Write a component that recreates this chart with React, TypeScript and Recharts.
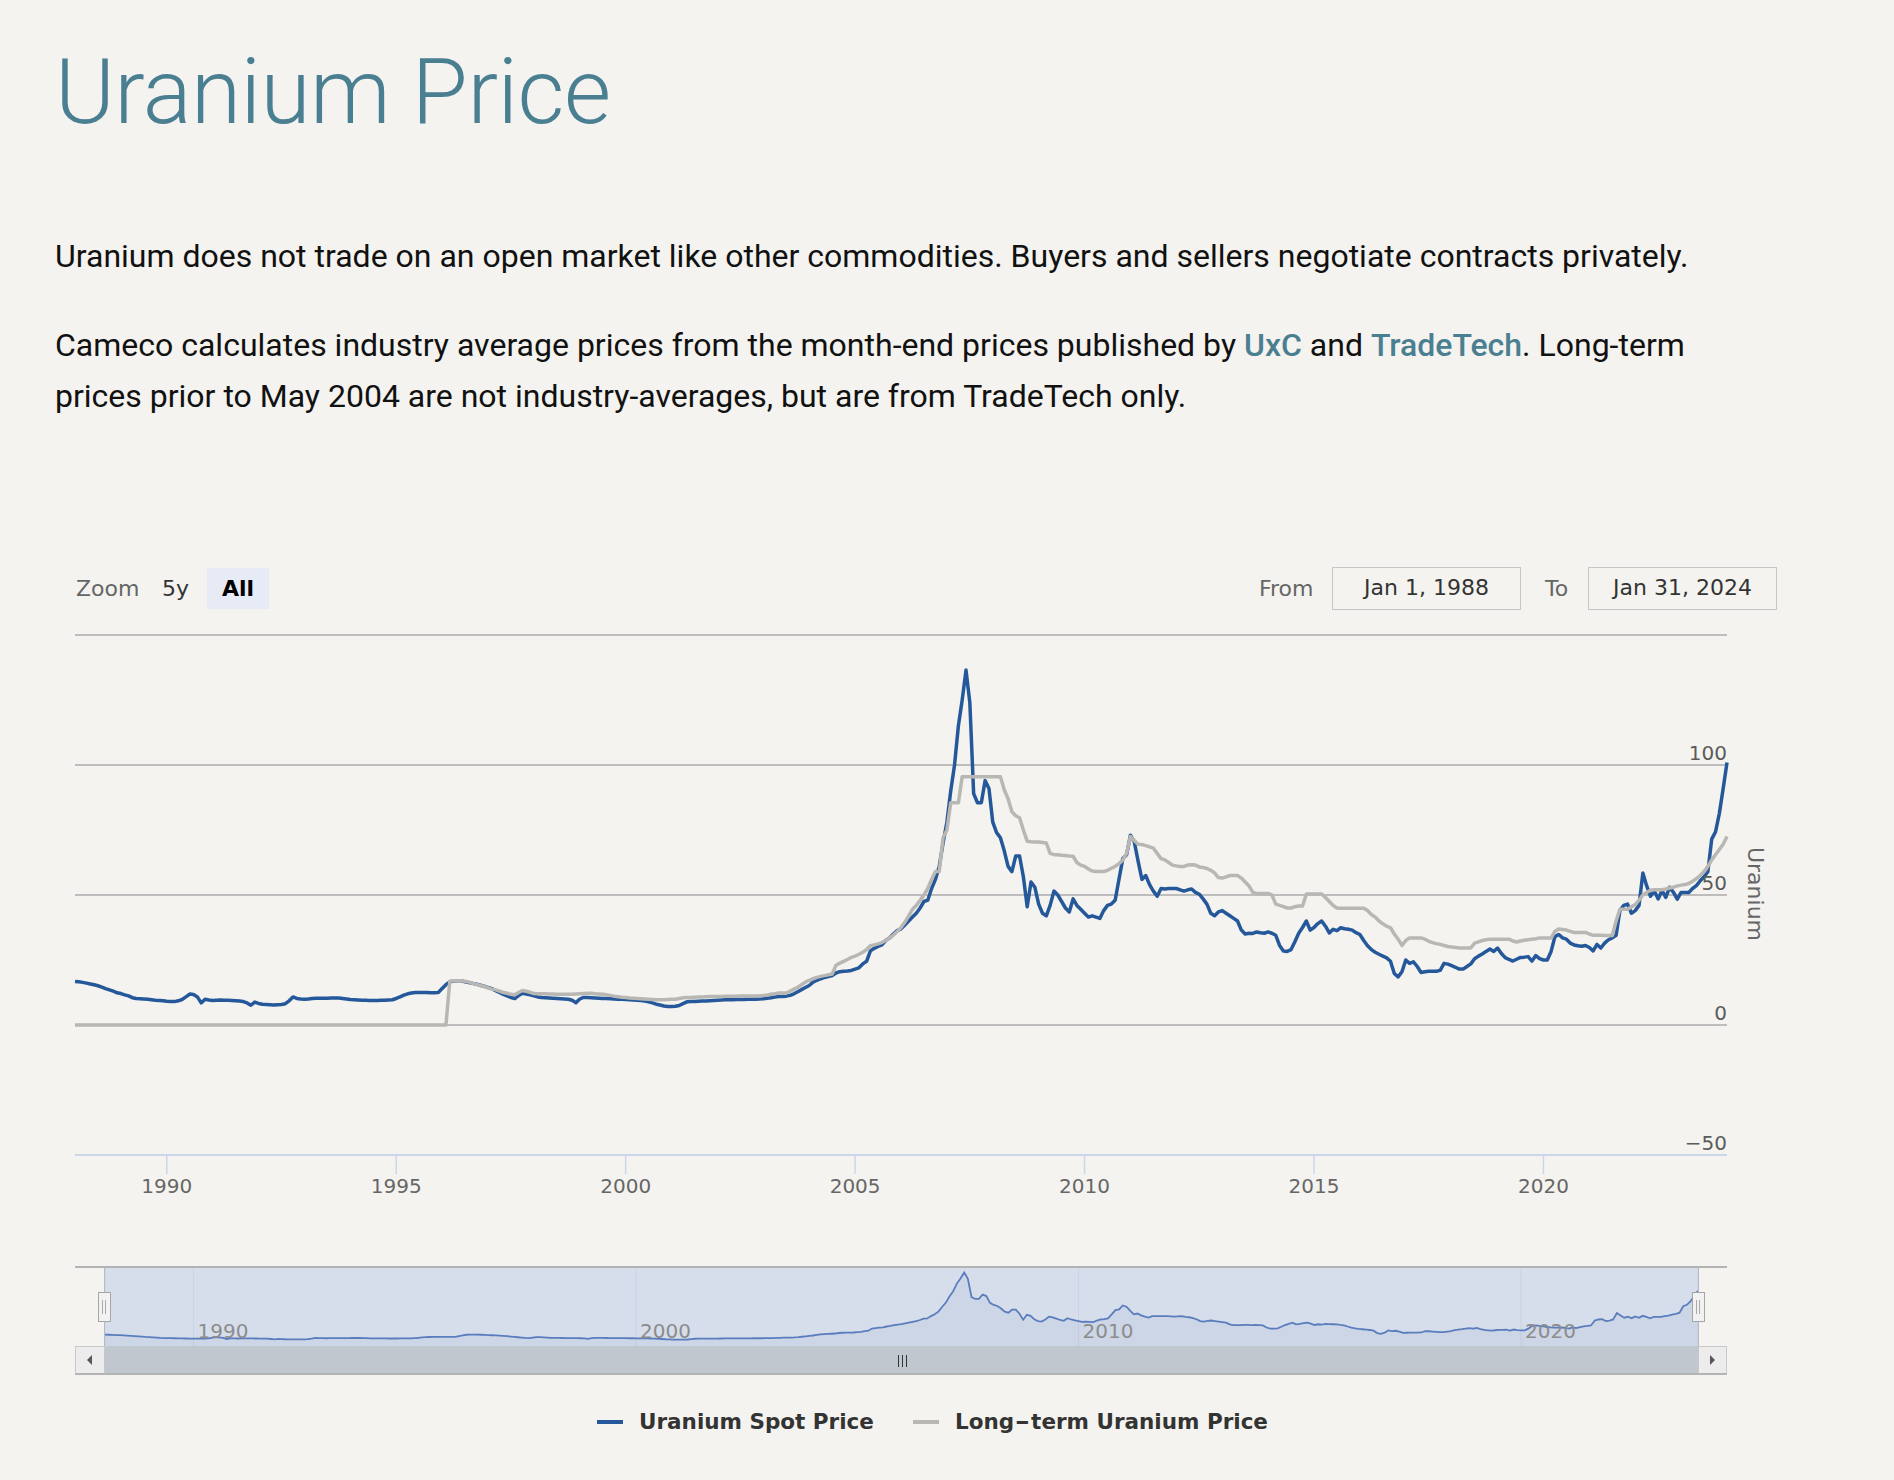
import React from 'react';
import { LineChart, Line, XAxis, YAxis, CartesianGrid, AreaChart, Area } from 'recharts';

// ---------------- data ----------------
const START_YEAR = 1988;
const END_YEAR = 2024;
const X_TICKS = [1990, 1995, 2000, 2005, 2010, 2015, 2020];
const NAV_TICKS = [1990, 2000, 2010, 2020];
const Y_TICKS = [-50, 0, 50, 100, 150];
const SERIES_NAMES = ['Uranium Spot Price', 'Long-term Uranium Price'];
const SERIES_COLORS = ['#24589a', '#b8b7b4'];
const Y_AXIS_TITLE = 'Uranium';
const FROM_DATE = 'Jan 1, 1988';
const TO_DATE = 'Jan 31, 2024';

// monthly spot price, Jan..Dec per row
const SPOT_1988_1995 = [
  16.7, 16.6, 16.4, 16.1, 15.8, 15.5, 15.1, 14.6, 14.0, 13.5, 13.0, 12.4,
  12.1, 11.6, 11.2, 10.5, 10.2, 10.1, 10.0, 9.9, 9.7, 9.5, 9.4, 9.3,
  9.1, 9.0, 9.0, 9.3, 9.8, 10.8, 11.9, 11.7, 10.8, 8.5, 9.9, 9.6,
  9.4, 9.5, 9.6, 9.5, 9.5, 9.4, 9.3, 9.2, 9.0, 8.5, 7.6, 8.8,
  8.3, 8.0, 7.9, 7.8, 7.7, 7.8, 7.9, 8.2, 9.3, 10.8, 10.2, 10.0,
  9.9, 10.0, 10.2, 10.3, 10.3, 10.3, 10.3, 10.4, 10.4, 10.4, 10.2, 10.0,
  9.8, 9.7, 9.6, 9.5, 9.5, 9.4, 9.4, 9.4, 9.5, 9.5, 9.6, 9.7,
  10.2, 10.8, 11.5, 12.0, 12.3, 12.5, 12.5, 12.5, 12.5, 12.4, 12.4, 12.5,
];
const SPOT_1996_2003 = [
  14.0, 15.5, 16.6, 16.9, 17.0, 17.0, 16.6, 16.3, 16.0, 15.7, 15.3, 14.9,
  14.4, 14.0, 13.2, 12.5, 11.8, 11.2, 10.6, 10.2, 11.3, 12.2, 11.9, 11.6,
  11.2, 10.8, 10.6, 10.5, 10.4, 10.3, 10.2, 10.1, 10.0, 9.9, 9.5, 8.6,
  10.0, 10.6, 10.6, 10.5, 10.4, 10.3, 10.2, 10.2, 10.1, 10.0, 9.9, 9.9,
  9.8, 9.7, 9.6, 9.5, 9.4, 9.2, 8.9, 8.5, 8.0, 7.7, 7.3, 7.1,
  7.1, 7.2, 7.5, 8.2, 8.9, 9.0, 9.0, 9.1, 9.2, 9.2, 9.3, 9.4,
  9.5, 9.6, 9.7, 9.7, 9.7, 9.8, 9.8, 9.8, 9.9, 9.9, 9.9, 10.0,
  10.1, 10.3, 10.5, 10.8, 11.0, 11.0, 11.1, 11.4, 12.0, 12.8, 13.6, 14.4,
];
const SPOT_2004_2011 = [
  15.2, 16.5, 17.2, 17.8, 18.3, 18.6, 19.0, 20.0, 20.5, 20.7, 20.8, 21.0,
  21.5, 22.0, 23.5, 24.5, 28.5, 29.5, 30.2, 30.8, 32.5, 33.5, 35.0, 36.3,
  37.0, 38.5, 40.0, 41.5, 43.0, 45.0, 47.5, 48.0, 52.5, 56.0, 61.0, 70.0,
  78.0, 90.0, 100.0, 115.0, 125.0, 136.5, 124.0, 89.0, 85.5, 85.5, 94.0, 91.0,
  78.0, 74.0, 72.0, 67.0, 61.0, 59.0, 65.0, 65.0, 57.0, 45.5, 55.0, 53.0,
  46.5, 43.0, 42.0, 46.0, 51.5, 50.0, 47.5, 45.0, 43.5, 48.5, 46.0, 44.5,
  43.0, 41.5, 42.0, 41.5, 41.0, 44.0, 46.0, 46.5, 48.0, 56.0, 64.0, 65.5,
  73.0, 70.5, 63.0, 56.0, 57.5, 54.0, 51.5, 49.5, 52.5, 52.3, 52.5, 52.5,
];
const SPOT_2012_2019 = [
  52.5, 52.0, 51.5, 52.0, 52.3, 51.0, 50.3, 48.5, 46.5, 43.0, 42.0, 43.5,
  44.0, 43.0, 42.0, 41.0, 40.0, 36.5, 35.0, 35.3, 35.2, 35.8, 35.5, 35.3,
  35.8, 35.3, 34.5, 30.6, 28.5, 28.3, 29.0, 32.0, 35.3, 37.5, 40.0, 36.5,
  37.5, 39.0, 40.0, 38.0, 35.4, 36.8, 36.3, 37.4, 37.0, 36.8, 36.5, 35.5,
  34.8, 32.5, 30.5, 29.0, 28.0, 27.2, 26.5, 25.8, 24.5, 19.8, 18.5, 20.5,
  25.0, 23.7, 24.3, 22.5, 20.2, 20.5, 20.7, 20.7, 20.7, 21.0, 23.7, 23.4,
  22.8, 22.2, 21.5, 21.5, 22.5, 23.5, 25.5, 26.5, 27.3, 28.3, 29.2, 28.3,
  29.6, 27.5, 25.9, 25.2, 24.6, 25.3, 26.0, 26.1, 26.3, 24.6, 26.7, 25.5,
];
const SPOT_2020_2024 = [
  25.0, 25.0, 28.3, 34.0, 34.8, 33.5, 33.0, 31.5, 30.8, 30.5, 30.3, 30.6,
  29.8, 28.5, 31.0, 29.6, 31.5, 32.8, 33.5, 34.5, 44.0, 46.0, 46.5, 43.0,
  44.0, 46.0, 58.5, 53.5, 49.5, 51.5, 48.5, 51.7, 49.1, 53.0, 51.0, 48.4,
  51.0, 51.0, 51.0, 52.5, 53.6, 55.5, 57.0, 59.0, 71.5, 74.3, 81.4, 91.0,
  101.0,
];

// monthly long-term price, Jan..Dec per row (drawn at 0 before 1996)
const LONG_TERM_1988_1995 = [
  0, 0, 0, 0, 0, 0, 0, 0, 0, 0, 0, 0,
  0, 0, 0, 0, 0, 0, 0, 0, 0, 0, 0, 0,
  0, 0, 0, 0, 0, 0, 0, 0, 0, 0, 0, 0,
  0, 0, 0, 0, 0, 0, 0, 0, 0, 0, 0, 0,
  0, 0, 0, 0, 0, 0, 0, 0, 0, 0, 0, 0,
  0, 0, 0, 0, 0, 0, 0, 0, 0, 0, 0, 0,
  0, 0, 0, 0, 0, 0, 0, 0, 0, 0, 0, 0,
  0, 0, 0, 0, 0, 0, 0, 0, 0, 0, 0, 0,
];
const LONG_TERM_1996_2003 = [
  0, 0, 16.8, 17.0, 17.0, 17.0, 16.8, 16.5, 16.0, 15.6, 15.2, 14.8,
  14.3, 13.8, 13.5, 13.0, 12.5, 12.2, 11.8, 11.6, 12.5, 13.3, 13.0, 12.6,
  12.1, 12.0, 12.0, 12.0, 11.9, 11.9, 11.8, 11.8, 11.8, 11.8, 11.8, 11.9,
  12.0, 12.1, 12.2, 12.2, 12.0, 11.9, 11.8, 11.6, 11.4, 11.1, 10.9, 10.7,
  10.6, 10.4, 10.3, 10.2, 10.1, 10.0, 9.9, 9.8, 9.7, 9.7, 9.7, 9.8,
  9.9, 9.9, 10.2, 10.5, 10.6, 10.6, 10.7, 10.8, 10.8, 10.9, 11.0, 11.0,
  11.0, 11.0, 11.1, 11.1, 11.1, 11.1, 11.2, 11.2, 11.2, 11.2, 11.2, 11.2,
  11.3, 11.5, 11.8, 12.0, 12.3, 12.3, 12.3, 13.0, 13.8, 14.5, 15.5, 16.5,
];
const LONG_TERM_2004_2011 = [
  17.2, 17.8, 18.3, 18.7, 19.0, 19.3, 19.6, 23.0, 23.8, 24.5, 25.2, 26.0,
  26.5, 27.2, 28.0, 29.0, 30.5, 30.8, 31.2, 31.7, 32.5, 33.5, 34.5, 36.0,
  37.5, 39.5, 42.0, 44.5, 46.0, 48.0, 50.0, 52.5, 56.0, 59.0, 59.0, 72.0,
  75.0, 85.5, 85.5, 85.5, 95.5, 95.5, 95.5, 95.5, 95.5, 95.5, 95.5, 95.5,
  95.5, 95.5, 95.5, 90.5, 87.0, 82.0, 80.5, 79.7, 75.0, 70.7, 70.5, 70.4,
  70.4, 70.2, 70.0, 66.0, 65.5, 65.5, 65.3, 65.2, 65.0, 64.9, 62.5, 61.5,
  61.0, 60.0, 59.2, 59.0, 59.0, 59.0, 59.5, 60.3, 61.0, 62.0, 63.5, 66.0,
  72.5, 71.0, 69.5, 69.4, 69.0, 68.5, 68.0, 66.0, 64.0, 63.5, 62.5, 61.5,
];
const LONG_TERM_2012_2019 = [
  61.2, 61.0, 61.0, 61.5, 61.6, 61.5, 60.8, 60.6, 60.2, 59.5, 58.5, 56.7,
  56.5, 57.0, 57.5, 57.5, 57.5, 56.5, 55.0, 53.5, 51.0, 50.6, 50.6, 50.6,
  50.6, 50.0, 46.5, 46.0, 45.5, 45.0, 45.0, 45.5, 45.8, 45.8, 50.4, 50.4,
  50.4, 50.4, 50.4, 49.0, 47.5, 46.0, 45.0, 44.9, 44.9, 44.9, 44.9, 44.9,
  44.9, 44.9, 44.0, 42.5, 41.5, 40.0, 38.9, 38.0, 37.4, 35.0, 33.0, 30.6,
  32.5, 33.5, 33.5, 33.5, 33.5, 33.0, 32.2, 31.7, 31.3, 31.0, 30.6, 30.2,
  30.0, 29.8, 29.6, 29.6, 29.6, 29.6, 31.5, 32.0, 32.5, 32.8, 33.0, 33.0,
  33.0, 33.0, 33.0, 33.0, 32.3, 31.9, 32.3, 32.6, 32.8, 33.0, 33.2, 33.5,
];
const LONG_TERM_2020_2024 = [
  33.5, 33.5, 33.5, 36.0, 36.9, 36.7, 36.5, 36.0, 35.6, 35.6, 35.6, 35.6,
  35.0, 34.5, 34.5, 34.5, 34.4, 34.4, 34.4, 40.0, 44.5, 44.5, 44.5, 45.5,
  46.3, 48.0, 50.0, 51.0, 51.8, 52.0, 52.0, 52.0, 52.3, 52.7, 53.0, 53.5,
  53.8, 54.0, 54.4, 55.3, 56.3, 57.5, 59.0, 61.0, 63.5, 65.5, 67.5, 69.5,
  72.5,
];

const SPOT = [...SPOT_1988_1995, ...SPOT_1996_2003, ...SPOT_2004_2011, ...SPOT_2012_2019, ...SPOT_2020_2024];
const LONG_TERM = [
  ...LONG_TERM_1988_1995, ...LONG_TERM_1996_2003, ...LONG_TERM_2004_2011,
  ...LONG_TERM_2012_2019, ...LONG_TERM_2020_2024,
];

const rows = SPOT.map((v, i) => ({ t: START_YEAR + i / 12, spot: v, longTerm: LONG_TERM[i] }));

// ---------------- layout ----------------
const PAGE_W = 1894;
const PAGE_H = 1480;
const BG = '#f4f3ef';
const UI_FONT = '"DejaVu Sans", Verdana, sans-serif';
const TEXT_FONT = 'Roboto, "Open Sans", sans-serif';
const TEAL = '#4a7f92';

const MAIN_TOP = 600;
const MAIN_H = 620;
const PLOT_LEFT = 75;
const PLOT_RIGHT = 1727;

const NAV_TOP = 1240;
const NAV_H = 140;
const NAV_LEFT = 105;
const NAV_RIGHT = 1698;
const NAV_Y0 = 1268;
const NAV_Y1 = 1346;

const YTick = (props: any) => {
  const { y, payload } = props;
  const v = payload.value;
  if (v === 150) return <g />;
  const label = v < 0 ? `\u2212${Math.abs(v)}` : `${v}`;
  return (
    <text x={PLOT_RIGHT} y={y - 5} textAnchor="end" fill="#5a5a5a" fontSize={20} fontFamily={UI_FONT}>
      {label}
    </text>
  );
};

const NavTick = (props: any) => {
  const { x, payload } = props;
  return (
    <text x={x + 4} y={1338 - NAV_TOP} textAnchor="start" fill="#8c8c8c" fontSize={20} fontFamily={UI_FONT}>
      {payload.value}
    </text>
  );
};

const abs = (l: number, t: number, w: number, h: number, extra: React.CSSProperties = {}): React.CSSProperties => ({
  position: 'absolute', left: l, top: t, width: w, height: h, boxSizing: 'border-box', ...extra,
});

const LegendLabel = ({ name }: { name: string }) => {
  const parts = name.split('-');
  if (parts.length < 2) return <>{name}</>;
  return (
    <>
      {parts[0]}
      <span style={{ display: 'inline-block', transform: 'scaleX(1.7)', margin: '0 4px' }}>-</span>
      {parts.slice(1).join('-')}
    </>
  );
};

export default function App() {
  return (
    <div style={{ position: 'relative', width: PAGE_W, height: PAGE_H, background: BG, overflow: 'hidden' }}>
      <style>{`body{margin:0;background:${BG};}`}</style>

      {/* Title */}
      <div style={{ position: 'absolute', left: 55, top: 47.4, fontFamily: TEXT_FONT, fontWeight: 300, fontSize: 91, lineHeight: '91px', letterSpacing: '-0.5px', color: TEAL, whiteSpace: 'nowrap' }}>
        Uranium Price
      </div>

      {/* Paragraphs */}
      <div style={{ position: 'absolute', left: 55, top: 240, fontFamily: TEXT_FONT, fontSize: 32, lineHeight: '32px', color: '#111', whiteSpace: 'nowrap' }}>
        Uranium does not trade on an open market like other commodities. Buyers and sellers negotiate contracts privately.
      </div>
      <div style={{ position: 'absolute', left: 55, top: 320, fontFamily: TEXT_FONT, fontSize: 32, lineHeight: '50.7px', color: '#111', whiteSpace: 'nowrap' }}>
        Cameco calculates industry average prices from the month-end prices published by{' '}
        <span style={{ color: TEAL, fontWeight: 500 }}>UxC</span> and{' '}
        <span style={{ color: TEAL, fontWeight: 500 }}>TradeTech</span>. Long-term
        <br />
        prices prior to May 2004 are not industry-averages, but are from TradeTech only.
      </div>

      {/* Range selector */}
      <div style={abs(76, 568, 70, 41, { fontFamily: UI_FONT, fontSize: 22, lineHeight: '41px', color: '#666' })}>Zoom</div>
      <div style={abs(162, 568, 40, 41, { fontFamily: UI_FONT, fontSize: 22, lineHeight: '41px', color: '#333' })}>5y</div>
      <div style={abs(207, 568, 62, 41, { fontFamily: UI_FONT, fontSize: 22, lineHeight: '41px', color: '#000', fontWeight: 700, background: '#e6ebf5', textAlign: 'center' })}>All</div>
      <div style={abs(1259, 568, 70, 41, { fontFamily: UI_FONT, fontSize: 22, lineHeight: '41px', color: '#666' })}>From</div>
      <div style={abs(1332, 567, 189, 43, { fontFamily: UI_FONT, fontSize: 22, lineHeight: '40px', color: '#333', border: '1.5px solid #c6c6c6', textAlign: 'center' })}>{FROM_DATE}</div>
      <div style={abs(1545, 568, 40, 41, { fontFamily: UI_FONT, fontSize: 22, lineHeight: '41px', color: '#666' })}>To</div>
      <div style={abs(1588, 567, 189, 43, { fontFamily: UI_FONT, fontSize: 22, lineHeight: '40px', color: '#333', border: '1.5px solid #c6c6c6', textAlign: 'center' })}>{TO_DATE}</div>

      {/* Main chart */}
      <div style={{ position: 'absolute', left: 0, top: MAIN_TOP }}>
        <LineChart width={PAGE_W} height={MAIN_H} data={rows} margin={{ top: 635 - MAIN_TOP, right: PAGE_W - PLOT_RIGHT - 1, bottom: 0, left: PLOT_LEFT }}>
          <CartesianGrid horizontal vertical={false} stroke="#bdbdbd" strokeWidth={1.8} />
          <XAxis
            dataKey="t"
            type="number"
            domain={[START_YEAR, END_YEAR]}
            ticks={X_TICKS}
            height={MAIN_TOP + MAIN_H - 1155}
            axisLine={{ stroke: '#ccd6eb', strokeWidth: 2 }}
            tickLine={{ stroke: '#ccd6eb', strokeWidth: 1.5 }}
            tickSize={19}
            tickMargin={5}
            tick={{ fill: '#666', fontSize: 20, fontFamily: UI_FONT }}
          />
          <YAxis
            orientation="right"
            width={1}
            domain={[-50, 150]}
            ticks={Y_TICKS}
            axisLine={false}
            tickLine={false}
            tick={(p: any) => <YTick {...p} />}
          />
          <Line type="linear" dataKey="spot" name={SERIES_NAMES[0]} stroke={SERIES_COLORS[0]} strokeWidth={3.5} dot={false} isAnimationActive={false} strokeLinejoin="round" />
          <Line type="linear" dataKey="longTerm" name={SERIES_NAMES[1]} stroke={SERIES_COLORS[1]} strokeWidth={3.5} dot={false} isAnimationActive={false} strokeLinejoin="round" />
        </LineChart>
      </div>

      {/* Y axis title */}
      <div style={{ position: 'absolute', left: 1755, top: 894, transform: 'translate(-50%, -50%) rotate(90deg)', fontFamily: UI_FONT, fontSize: 22, color: '#666', whiteSpace: 'nowrap' }}>
        {Y_AXIS_TITLE}
      </div>

      {/* Navigator background mask */}
      <div style={abs(NAV_LEFT, NAV_Y0, NAV_RIGHT - NAV_LEFT, NAV_Y1 - NAV_Y0, { background: '#d5deea' })} />
      {/* Navigator chart */}
      <div style={{ position: 'absolute', left: 0, top: NAV_TOP }}>
        <AreaChart width={PAGE_W} height={NAV_H} data={rows} margin={{ top: NAV_Y0 - NAV_TOP, right: PAGE_W - NAV_RIGHT, bottom: NAV_TOP + NAV_H - NAV_Y1 - 1, left: NAV_LEFT }}>
          <CartesianGrid horizontal={false} vertical stroke="#c9d3e2" strokeWidth={1} />
          <XAxis dataKey="t" type="number" domain={[START_YEAR, END_YEAR]} ticks={NAV_TICKS} height={1} axisLine={false} tickLine={false} tick={(p: any) => <NavTick {...p} />} />
          <YAxis hide domain={[-5, 145]} />
          <Area type="linear" dataKey="spot" stroke="#5b7dbd" strokeWidth={1.8} fill={SERIES_COLORS[0]} fillOpacity={0.05} baseValue={-5} dot={false} isAnimationActive={false} />
        </AreaChart>
      </div>
      {/* Navigator outline */}
      <div style={abs(PLOT_LEFT, 1266, PLOT_RIGHT - PLOT_LEFT, 2, { background: '#b3b3b3' })} />
      <div style={abs(NAV_LEFT - 1, NAV_Y0, 1, NAV_Y1 - NAV_Y0, { background: '#b9b9c0' })} />
      <div style={abs(NAV_RIGHT, NAV_Y0, 1, NAV_Y1 - NAV_Y0, { background: '#b9b9c0' })} />
      {/* handles */}
      {[NAV_LEFT - 1, NAV_RIGHT].map((hx) => (
        <div key={hx} style={abs(hx - 6, 1292, 13, 30, { background: '#f2f2f2', border: '1px solid #a6a6a6' })}>
          <div style={abs(3, 7, 1, 14, { background: '#aaa' })} />
          <div style={abs(6, 7, 1, 14, { background: '#aaa' })} />
        </div>
      ))}
      {/* scrollbar */}
      <div style={abs(PLOT_LEFT, NAV_Y1, PLOT_RIGHT - PLOT_LEFT, 29, { background: '#c1c7cf', borderBottom: '2px solid #b3b3b3' })} />
      <div style={abs(PLOT_LEFT, NAV_Y1, NAV_LEFT - PLOT_LEFT, 29, { background: '#ececec', border: '1px solid #c8c8c8', borderBottom: '2px solid #b3b3b3' })}>
        <div style={{ position: 'absolute', left: 11, top: 8, width: 0, height: 0, borderTop: '5px solid transparent', borderBottom: '5px solid transparent', borderRight: '5px solid #555' }} />
      </div>
      <div style={abs(NAV_RIGHT, NAV_Y1, PLOT_RIGHT - NAV_RIGHT, 29, { background: '#ececec', border: '1px solid #c8c8c8', borderBottom: '2px solid #b3b3b3' })}>
        <div style={{ position: 'absolute', left: 11, top: 8, width: 0, height: 0, borderTop: '5px solid transparent', borderBottom: '5px solid transparent', borderLeft: '5px solid #555' }} />
      </div>
      {[-4, 0, 4].map((dx) => (
        <div key={dx} style={abs((NAV_LEFT + NAV_RIGHT) / 2 + dx, 1355, 1, 12, { background: '#333' })} />
      ))}

      {/* Legend */}
      {SERIES_NAMES.map((name, i) => {
        const sx = [597, 913][i];
        return (
          <React.Fragment key={name}>
            <div style={abs(sx, 1420, 26, 4, { background: SERIES_COLORS[i] })} />
            <div style={{ position: 'absolute', left: sx + 42, top: 1407, height: 30, lineHeight: '30px', fontFamily: UI_FONT, fontWeight: 700, fontSize: 21.5, color: '#333', whiteSpace: 'nowrap' }}>
              <LegendLabel name={name} />
            </div>
          </React.Fragment>
        );
      })}
    </div>
  );
}
